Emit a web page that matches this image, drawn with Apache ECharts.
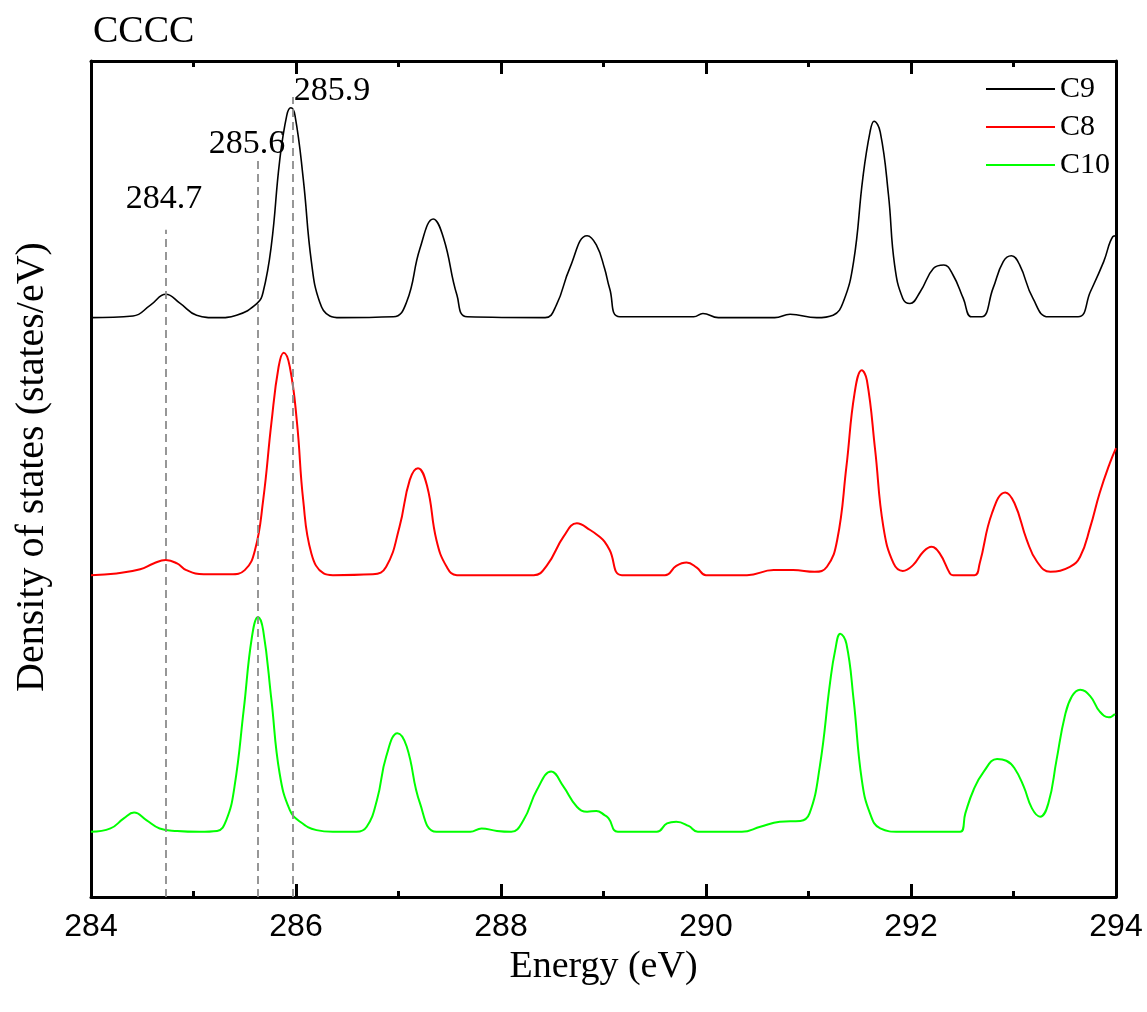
<!DOCTYPE html>
<html>
<head>
<meta charset="utf-8">
<script src="https://cdn.jsdelivr.net/npm/echarts@6/dist/echarts.min.js"></script>
<style>
html,body{margin:0;padding:0;background:#fff;}
#chart{width:1147px;height:1012px;}
</style>
</head>
<body>
<div id="chart"></div>
<script>
// Energy (eV) / DOS (arbitrary, stacked offsets) pairs
var c9X = [284.00,284.41,284.58,284.73,284.87,285.03,285.23,285.42,285.62,285.68,285.76,285.84,285.91,285.95,285.99,286.07,286.15,286.23,286.33,286.43,286.95,287.08,287.21,287.34,287.44,287.57,287.67,288.43,288.54,288.67,288.84,288.93,289.01,289.06,289.16,289.88,289.97,290.12,290.67,290.82,291.08,291.24,291.34,291.44,291.53,291.60,291.64,291.70,291.78,291.84,291.92,291.99,292.09,292.22,292.32,292.41,292.51,292.59,292.69,292.80,292.90,292.98,293.06,293.19,293.34,293.63,293.75,293.88,293.97,294.00];
var c9Y = [6.93,6.95,7.08,7.21,7.10,6.96,6.93,6.96,7.10,7.24,7.80,8.80,9.35,9.44,9.35,8.60,7.60,7.12,6.95,6.93,6.94,7.12,7.76,8.11,7.88,7.20,6.94,6.93,7.08,7.52,7.91,7.80,7.52,7.28,6.94,6.94,6.98,6.93,6.93,6.97,6.93,6.96,7.12,7.60,8.60,9.15,9.28,9.15,8.40,7.56,7.16,7.10,7.24,7.52,7.56,7.44,7.16,6.94,6.94,7.28,7.60,7.67,7.56,7.16,6.94,6.94,7.24,7.60,7.90,7.91];

var c8X = [284.00,284.25,284.48,284.61,284.73,284.84,284.93,285.10,285.36,285.50,285.60,285.68,285.76,285.83,285.88,285.94,286.01,286.07,286.15,286.27,286.36,286.75,286.88,287.01,287.11,287.19,287.28,287.37,287.47,287.57,288.32,288.45,288.61,288.74,288.87,288.97,289.01,289.06,289.18,289.60,289.71,289.81,289.91,290.00,290.40,290.66,290.85,291.06,291.18,291.28,291.37,291.45,291.52,291.57,291.65,291.73,291.83,291.92,292.02,292.12,292.20,292.28,292.38,292.41,292.62,292.67,292.79,292.92,293.01,293.13,293.23,293.36,293.55,293.65,293.75,293.84,293.94,294.00];
var c8Y = [3.85,3.87,3.92,3.99,4.03,3.99,3.91,3.86,3.86,3.91,4.15,4.75,5.67,6.34,6.51,6.34,5.67,4.75,4.11,3.87,3.85,3.86,3.95,4.43,4.99,5.13,4.91,4.27,3.95,3.85,3.85,3.97,4.31,4.47,4.39,4.30,4.25,4.15,3.85,3.85,3.96,4.00,3.94,3.85,3.85,3.91,3.91,3.89,3.95,4.27,5.15,6.03,6.30,6.18,5.35,4.43,3.99,3.90,3.97,4.13,4.19,4.11,3.87,3.85,3.85,3.99,4.59,4.84,4.71,4.27,4.01,3.89,3.95,4.07,4.43,4.83,5.19,5.37];

var c10X = [284.00,284.19,284.32,284.42,284.54,284.67,284.84,285.06,285.23,285.32,285.40,285.49,285.57,285.63,285.68,285.76,285.84,285.94,286.04,286.20,286.36,286.59,286.69,286.79,286.88,286.99,287.08,287.21,287.37,287.70,287.81,287.96,288.10,288.22,288.35,288.49,288.61,288.74,288.84,288.93,289.01,289.05,289.14,289.52,289.62,289.71,289.83,289.92,290.35,290.53,290.72,290.92,291.01,291.11,291.21,291.26,291.31,291.37,291.44,291.52,291.60,291.70,291.89,292.48,292.53,292.61,292.71,292.84,292.93,293.01,293.10,293.18,293.26,293.34,293.42,293.50,293.57,293.65,293.75,293.84,293.93,293.99];
var c10Y = [0.78,0.82,0.94,1.01,0.92,0.82,0.79,0.78,0.79,0.92,1.32,2.24,3.11,3.35,3.19,2.36,1.48,1.04,0.90,0.80,0.78,0.78,0.84,1.16,1.68,1.96,1.80,1.12,0.78,0.78,0.82,0.79,0.78,0.92,1.28,1.50,1.32,1.08,1.02,1.03,0.98,0.94,0.78,0.78,0.88,0.90,0.85,0.78,0.78,0.84,0.90,0.91,1.00,1.56,2.56,2.95,3.15,3.03,2.36,1.40,1.00,0.82,0.78,0.78,1.00,1.28,1.50,1.65,1.63,1.54,1.32,1.06,0.96,1.12,1.64,2.16,2.40,2.48,2.40,2.22,2.15,2.19];

var seriesNames = ['C9', 'C8', 'C10'];
var seriesColors = ['#000000', '#ff0000', '#00ff00'];

// reference peak markers: energy, top of dashed line, label text, label anchor
var markEnergy = [284.73, 285.63, 285.97];
var markTop = [7.98, 8.83, 9.57];
var markText = ['284.7', '285.6', '285.9'];
var markLabelX = [284.717, 285.527, 286.356];
var markLabelY = [8.34, 9.00, 9.64];

var xTicks = [284, 286, 288, 290, 292, 294];

function zip(xs, ys) { return xs.map(function (x, i) { return [x, ys[i]]; }); }

var serif = 'Liberation Serif';
var sans = 'Liberation Sans';

var chart = echarts.init(document.getElementById('chart'), null, {renderer: 'canvas'});

var markLineData = markEnergy.map(function (e, i) {
  return [{coord: [e, 0]}, {coord: [e, markTop[i]]}];
});

var axisLineStyle = {show: true, onZero: false, lineStyle: {color: '#000', width: 3}};
var tickStyle = {show: true, inside: true, length: 13, lineStyle: {color: '#000', width: 3}};
var minorTickStyle = {show: true, splitNumber: 2, length: 6, lineStyle: {color: '#000', width: 3}};

var option = {
  animation: false,
  backgroundColor: '#ffffff',
  title: {
    text: 'CCCC', left: 88, top: 8,
    textStyle: {fontFamily: serif, fontSize: 38, fontWeight: 'normal', color: '#000'}
  },
  legend: {
    data: seriesNames,
    orient: 'vertical', left: 981, top: 69,
    icon: 'rect', itemWidth: 69, itemHeight: 2, itemGap: 8,
    textStyle: {fontFamily: serif, fontSize: 30, color: '#000', lineHeight: 30}
  },
  grid: {left: 91, right: 31, top: 61, bottom: 115, containLabel: false},
  xAxis: [{
    type: 'value', min: 284, max: 294, interval: 2, position: 'bottom',
    name: 'Energy (eV)', nameLocation: 'middle', nameGap: 49,
    nameTextStyle: {fontFamily: serif, fontSize: 38, color: '#000'},
    axisLine: axisLineStyle,
    axisTick: tickStyle,
    minorTick: minorTickStyle,
    axisLabel: {show: true, margin: 14, fontFamily: sans, fontSize: 32, color: '#000',
      formatter: function (v) { return xTicks.indexOf(v) >= 0 ? String(v) : ''; }},
    splitLine: {show: false}
  }, {
    type: 'value', min: 284, max: 294, interval: 2, position: 'top',
    axisLine: axisLineStyle,
    axisTick: tickStyle,
    minorTick: minorTickStyle,
    axisLabel: {show: true, color: 'rgba(0,0,0,0)', fontSize: 1},
    splitLine: {show: false}
  }],
  yAxis: [{
    type: 'value', min: 0, max: 10, position: 'left',
    name: 'Density of states (states/eV)', nameLocation: 'middle', nameGap: 39,
    nameTextStyle: {fontFamily: serif, fontSize: 40, color: '#000', padding: [0, 0, 0, 24]},
    axisLine: axisLineStyle,
    axisTick: {show: false}, axisLabel: {show: false}, splitLine: {show: false}
  }, {
    type: 'value', min: 0, max: 10, position: 'right',
    axisLine: axisLineStyle,
    axisTick: {show: false}, axisLabel: {show: false}, splitLine: {show: false}
  }],
  series: [
    {
      name: 'C9', type: 'line', data: zip(c9X, c9Y), showSymbol: false, symbol: 'none',
      smooth: 0.45, color: seriesColors[0], lineStyle: {width: 1.6, color: seriesColors[0]}, z: 3,
      markLine: {
        silent: true, symbol: ['none', 'none'], label: {show: false},
        lineStyle: {type: [8, 5], color: '#8c8c8c', width: 1.8},
        data: markLineData
      }
    },
    {
      name: 'C8', type: 'line', data: zip(c8X, c8Y), showSymbol: false, symbol: 'none',
      smooth: 0.45, color: seriesColors[1], lineStyle: {width: 2, color: seriesColors[1]}, z: 3
    },
    {
      name: 'C10', type: 'line', data: zip(c10X, c10Y), showSymbol: false, symbol: 'none',
      smooth: 0.45, color: seriesColors[2], lineStyle: {width: 2, color: seriesColors[2]}, z: 3
    },
    {
      name: 'labels', type: 'scatter', symbolSize: 1, silent: true,
      xAxisIndex: 1, yAxisIndex: 1,
      itemStyle: {color: 'rgba(0,0,0,0)'},
      label: {show: true, position: [0, 0], align: 'center', verticalAlign: 'middle',
        fontFamily: serif, fontSize: 34, color: '#000', opacity: 1, textBorderWidth: 0,
        formatter: function (p) { return p.name; }},
      data: markText.map(function (t, i) { return {name: t, value: [markLabelX[i], markLabelY[i]]}; })
    }
  ]
};
chart.setOption(option);
</script>
</body>
</html>
